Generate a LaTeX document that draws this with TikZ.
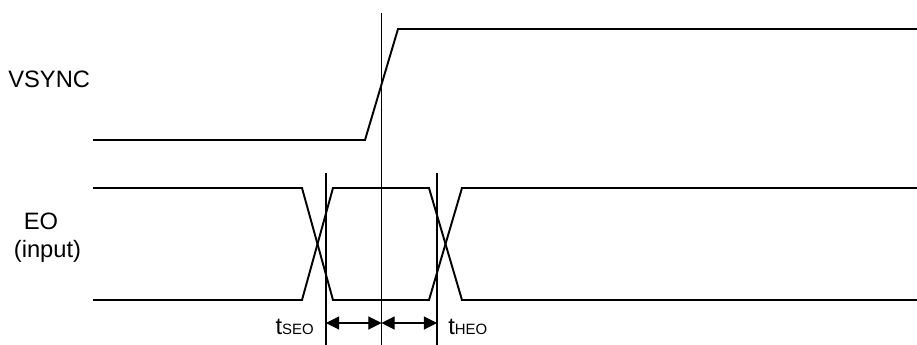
\documentclass[tikz,border=0pt]{standalone}
\usepackage{fontspec}
\setmainfont{Liberation Sans}
\usetikzlibrary{arrows.meta}

\begin{document}
\begin{tikzpicture}[x=0.02cm,y=-0.02cm,>={Triangle[length=7.5pt,width=7.5pt]},
  font=\fontsize{13.5}{16}\selectfont,
  signal/.style={line width=1.1pt},
  refline/.style={line width=0.6pt},
  label/.style={inner sep=0pt}]
  \useasboundingbox (0,0) rectangle (917,345);
  % waveforms
  \draw[signal] (93,140) -- (365,140) -- (398,29) -- (917,29);
  \draw[signal] (93,188) -- (302,188) -- (333,300) -- (429,300) -- (462,188) -- (917,188);
  \draw[signal] (93,300) -- (302,300) -- (333,188) -- (429,188) -- (462,300) -- (917,300);
  % reference lines
  \coordinate (setup) at (326,323);
  \coordinate (edge) at (381.5,323);
  \coordinate (hold) at (437,323);
  \draw[refline] (326,173) -- (326,345);
  \draw[refline] (381.5,13) -- (381.5,345);
  \draw[refline] (437,173) -- (437,345);
  \draw[refline,<->] (setup) -- (edge);
  \draw[refline,<->] (edge) -- (hold);
  % labels
  \node[label,anchor=base west] (vsync) at (8,87) {VSYNC};
  \node[label,anchor=base] (eo) at (41,229) {EO};
  \node[label,anchor=base] (input) at (47.5,257) {(input)};
  \node[label,anchor=base east] (tseo) at (314,334) {t{\fontsize{8.5}{9}\selectfont SEO}};
  \node[label,anchor=base west] (theo) at (448,334) {t{\fontsize{8.5}{9}\selectfont HEO}};
\end{tikzpicture}
\end{document}
